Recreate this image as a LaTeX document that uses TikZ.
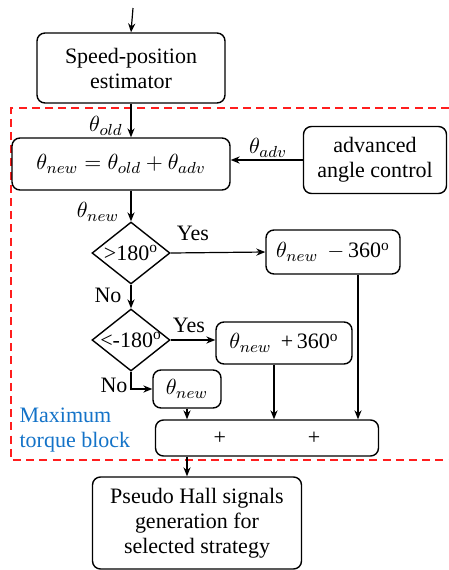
\documentclass[tikz,border=0pt]{standalone}
\usepackage{fontspec}
\setmainfont{Liberation Serif}
\newfontfamily\blockfont{Liberation Serif}
\usepackage{xcolor}
\usetikzlibrary{shapes.geometric,arrows.meta}
\definecolor{framered}{RGB}{255,30,30}
\definecolor{labelblue}{RGB}{20,115,200}

\begin{document}
\begin{tikzpicture}[x=0.5pt,y=-0.5pt,->,>={Stealth[length=4.5pt,width=3.6pt]},line width=0.6pt,
    font=\blockfont\fontsize{11}{12.5}\selectfont,
    block node/.style={draw,rounded corners=4pt,align=center,inner sep=0pt,line width=0.7pt},
    test node/.style={diamond,draw,inner sep=0pt,minimum width=39pt,minimum height=31pt,line width=0.7pt},
    tag node/.style={inner sep=1pt}]
    \useasboundingbox (0,0) rectangle (449,570);

    % maximum torque block frame
    \draw[-,framered,dashed,dash pattern=on 4pt off 2.6pt,line width=0.9pt]
        (449,108) -- (11,108) -- (11,460) -- (449,460);
    \node[tag node,labelblue,anchor=west,align=left] (mtb) at (17,430) {Maximum\\torque block};

    \coordinate (in) at (133,8);
    \node[block node,minimum width=94pt,minimum height=35pt] (est) at (131,68) {Speed-position\\estimator};
    \node[block node,minimum width=109pt,minimum height=26pt] (sum1) at (121,164) {$\theta_{new} = \theta_{old} + \theta_{adv}$};
    \node[block node,minimum width=71.5pt,minimum height=33.5pt] (adv) at (375,160) {advanced\\angle control};
    \node[test node,label=center:{>180\textsuperscript{o}}] (t1) at (131,253) {};
    \node[block node,minimum width=67pt,minimum height=22pt] (sub) at (333,252) {$\theta_{new}$ \,$-$\,360\textsuperscript{o}};
    \node[test node,label=center:{<-180\textsuperscript{o}}] (t2) at (131,340) {};
    \node[block node,minimum width=68pt,minimum height=21pt] (add) at (284,343) {$\theta_{new}$ \,+\,360\textsuperscript{o}};
    \node[block node,minimum width=34pt,minimum height=19pt] (keep) at (187,389) {$\theta_{new}$};
    \node[block node,minimum width=111.5pt,minimum height=18pt] (sel) at (267,438) {+\hspace{41pt}+};
    \node[block node,minimum width=104.5pt,minimum height=46pt] (hall) at (197,523) {Pseudo Hall signals\\generation for\\selected strategy};

    \node[tag node] (lold) at (106,126) {$\theta_{old}$};
    \node[tag node] (ladv) at (268,148) {$\theta_{adv}$};
    \node[tag node] (lnew) at (98,212) {$\theta_{new}$};
    \node[tag node] (yes1) at (193,233) {Yes};
    \node[tag node] (no1) at (108,295) {No};
    \node[tag node] (yes2) at (189,325) {Yes};
    \node[tag node] (no2) at (114,385) {No};

    \draw (in) -- (est.north);
    \draw (est.south) -- (est.south |- sum1.north);
    \draw (adv.west) -- (adv.west -| sum1.east);
    \draw (t1.north |- sum1.south) -- (t1.north);
    \draw (t1.east) -- (sub.west);
    \draw (t1.south) -- (t2.north);
    \draw (t2.east) -- (t2.east -| add.west);
    \draw (t2.south) |- (keep.west);
    \draw (keep.south) -- (sel.north -| keep.south);
    \draw ([xshift=-5pt]add.south) -- ([xshift=-5pt]add.south |- sel.north);
    \draw ([xshift=12.5pt]sub.south) -- ([xshift=12.5pt]sub.south |- sel.north);
    \draw (sel.south -| keep.south) -- (hall.north -| keep.south);
\end{tikzpicture}
\end{document}
